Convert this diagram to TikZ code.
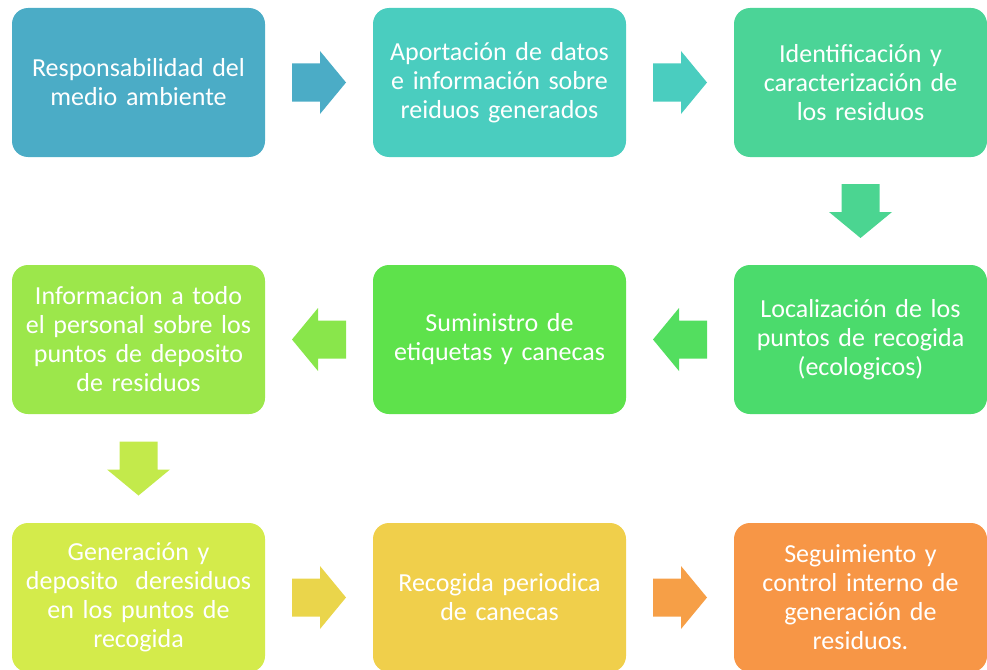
\documentclass[tikz,border=0pt]{standalone}
\usepackage{fontspec}
\setmainfont{Carlito}
\usepackage{xcolor}
\usetikzlibrary{calc}

\definecolor{boxA}{HTML}{4BACC6}
\definecolor{boxB}{HTML}{4ACDBF}
\definecolor{boxC}{HTML}{4BD497}
\definecolor{boxD}{HTML}{4BDB6C}
\definecolor{boxE}{HTML}{5EE24B}
\definecolor{boxF}{HTML}{9CE74B}
\definecolor{boxG}{HTML}{D4EB4B}
\definecolor{boxH}{HTML}{F0CF4B}
\definecolor{boxI}{HTML}{F79646}

\tikzset{
  stagebox/.style={rounded corners=16pt, minimum width=253pt, minimum height=149pt,
    text width=245pt, align=center, text=white, inner sep=0pt,
    font=\fontsize{26}{29}\selectfont},
  pics/blockarrow/.style={code={
    \fill (-27,-19) -- (1,-19) -- (1,-31.5) -- (27,0) -- (1,31.5) -- (1,19) -- (-27,19) -- cycle;}}
}

\begin{document}
\begin{tikzpicture}[x=1pt, y=1pt]
\path[use as bounding box, clip] (0,0) rectangle (987,-669);

% row 1
\node[stagebox, fill=boxA] (resp) at (138.5,-82.5) {Responsabilidad del\\medio ambiente};
\node[stagebox, fill=boxB] (apor) at (499.5,-82.5) {Aportación de datos\\e información sobre\\reiduos generados};
\node[stagebox, fill=boxC] (iden) at (860.5,-82.5) {Identificación y\\caracterización de\\los residuos};
% row 2
\node[stagebox, fill=boxD] (loca) at (860.5,-339.5) {Localización de los\\puntos de recogida\\(ecologicos)};
\node[stagebox, fill=boxE] (sumi) at (499.5,-339.5) {Suministro de\\etiquetas y canecas};
\node[stagebox, fill=boxF] (info) at (138.5,-339.5) {Informacion a todo\\el personal sobre los\\puntos de deposito\\de residuos};
% row 3
\node[stagebox, fill=boxG] (gene) at (138.5,-597.5) {Generación y\\deposito~ deresiduos\\en los puntos de\\recogida};
\node[stagebox, fill=boxH] (reco) at (499.5,-597.5) {Recogida periodica\\de canecas};
\node[stagebox, fill=boxI] (segu) at (860.5,-597.5) {Seguimiento y\\control interno de\\generación de\\residuos.};

% block arrows between the stages
\pic[fill=boxA] at ($(resp.east)!0.5!(apor.west)$) {blockarrow};
\pic[fill=boxB] at ($(apor.east)!0.5!(iden.west)$) {blockarrow};
\pic[fill=boxC!85!boxD, rotate=-90] at ($(iden.south)!0.5!(loca.north)$) {blockarrow};
\pic[fill=boxD!60!boxE, rotate=180] at ($(loca.west)!0.5!(sumi.east)$) {blockarrow};
\pic[fill=boxE!30!boxF, rotate=180] at ($(sumi.west)!0.5!(info.east)$) {blockarrow};
\pic[fill=boxF!30!boxG, rotate=-90] at ($(info.south)!0.5!(gene.north)$) {blockarrow};
\pic[fill=boxG!20!boxH] at ($(gene.east)!0.5!(reco.west)$) {blockarrow};
\pic[fill=boxH!15!boxI] at ($(reco.east)!0.5!(segu.west)$) {blockarrow};
\end{tikzpicture}
\end{document}
